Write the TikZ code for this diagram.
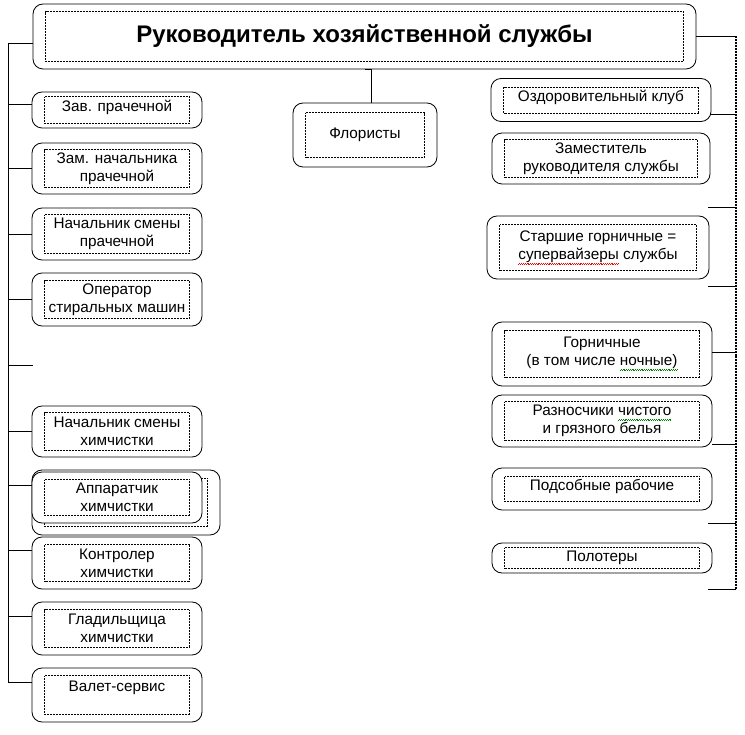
\documentclass[tikz,border=0pt]{standalone}
\usepackage{fontspec}
\setmainfont{Liberation Sans}
\usetikzlibrary{calc}

% wavy spell-check marks
\newcommand{\wavemark}[2]{\leavevmode\setbox0\hbox{#2}%
  \rlap{\color{#1}\hbox to \wd0{%
  \xleaders\hbox{\rule[-4.6pt]{0.9pt}{0.6pt}\rule[-3.8pt]{0.9pt}{0.6pt}}\hfill}}\box0\relax}

\tikzset{
  post/.style={draw, fill=white, line width=0.8pt, rounded corners=10pt,
    inner sep=0pt, align=center, font=\fontsize{15.3}{18}\selectfont},
  inbox/.style={line width=0.5pt, dash pattern=on 0.5pt off 1pt},
  link/.style={line width=0.8pt},
  rail/.style={line width=1.5pt, dash pattern=on 1pt off 0.5pt},
  lift/.style={text height=10.7pt, text depth=#1},
}

\begin{document}
\begin{tikzpicture}[x=1pt, y=-1pt]
  \useasboundingbox (0,0) rectangle (745,735);

  % Head
  \node[post, minimum width=663pt, minimum height=65pt,
    font=\fontsize{24}{28}\selectfont\bfseries] (head) at (364.5,36.5)
    {Руководитель хозяйственной службы};
  \node[post, minimum width=144pt, minimum height=64pt] (flor) at (365,135) {Флористы};

  % Laundry and dry cleaning
  \node[post, minimum width=170pt, minimum height=36pt, lift=8pt] (zav) at (117,110) {Зав. прачечной};
  \node[post, minimum width=170pt, minimum height=51pt] (zam) at (117,168.5) {Зам. начальника\\прачечной};
  \node[post, minimum width=170pt, minimum height=52pt] (nsp) at (117,234) {Начальник смены\\прачечной};
  \node[post, minimum width=170pt, minimum height=53pt] (oper) at (117,299.5) {Оператор\\стиральных машин};
  \node[post, minimum width=170pt, minimum height=51pt] (nsh) at (117,431.5) {Начальник смены\\химчистки};
  \node[post, minimum width=188pt, minimum height=65pt] (appx) at (126,502.5) {};
  \draw[inbox] ($(appx.south west)+(13,-9)$) rectangle ($(appx.north east)+(-13,9)$);
  \node[post, minimum width=170pt, minimum height=51pt] (app) at (117,497.5) {Аппаратчик\\химчистки};
  \node[post, minimum width=170pt, minimum height=52pt] (kont) at (117,563) {Контролер\\химчистки};
  \node[post, minimum width=170pt, minimum height=53pt] (glad) at (117,628.5) {Гладильщица\\химчистки};
  \node[post, minimum width=170pt, minimum height=54pt, lift=18.7pt] (valet) at (117,695) {Валет-сервис};

  % Rooms
  \node[post, minimum width=220pt, minimum height=43pt, lift=6.7pt] (club) at (601,100) {Оздоровительный клуб};
  \node[post, minimum width=218pt, minimum height=51pt] (deputy) at (601,158.5) {Заместитель\\руководителя службы};
  \node[post, minimum width=222pt, minimum height=63pt] (senior) at (598,247.5) {Старшие горничные =\\\wavemark{red}{супервайзеры} службы};
  \node[post, minimum width=220pt, minimum height=64pt] (maids) at (602,354) {Горничные\\(в том числе \wavemark{green!50!black}{ночные)}};
  \node[post, minimum width=220pt, minimum height=52pt] (porter) at (602,421) {Разносчики \wavemark{green!50!black}{чистого}\\и грязного белья};
  \node[post, minimum width=220pt, minimum height=42pt, lift=8.7pt] (helper) at (602,489) {Подсобные рабочие};
  \node[post, minimum width=220pt, minimum height=30pt] (polish) at (602,558) {Полотеры};

  % Dotted frames inside the boxes
  \foreach \n/\d in {head/8, flor/10, zav/5, zam/7, nsp/7, oper/8, nsh/7, app/8,
      kont/8, glad/8, valet/8, club/9, deputy/7, senior/9, maids/9, porter/7,
      helper/9, polish/5}
    \draw[inbox] ($(\n.south west)+(13,-\d)$) rectangle ($(\n.north east)+(-13,\d)$);

  % Rails
  \coordinate (lrail) at (8,43);
  \coordinate (lend) at (8,682);
  \coordinate (rrail) at (736,36);
  \coordinate (rend) at (736,589);
  \draw[link] (lrail) -- (lend);
  \draw[rail] (rrail) -- (rend);

  % Links
  \draw[link] ([xshift=6pt]flor.north) |- (head.south);
  \draw[link] (head.west |- lrail) -- (lrail);
  \draw[link] (zav.west |- 0,104) -- (lrail |- 0,104);
  \draw[link] (zam.west |- 0,168) -- (lrail |- 0,168);
  \draw[link] (nsp.west |- 0,234) -- (lrail |- 0,234);
  \draw[link] (oper.west |- 0,299) -- (lrail |- 0,299);
  \draw[link] (lrail |- 0,365) -- +(25,0);
  \draw[link] (nsh.west |- 0,431) -- (lrail |- 0,431);
  \draw[link] (app.west |- 0,485) -- (lrail |- 0,485);
  \draw[link] (kont.west |- 0,550) -- (lrail |- 0,550);
  \draw[link] (glad.west |- 0,616) -- (lrail |- 0,616);
  \draw[link] (valet.west |- lend) -- (lend);

  \draw[link] (head.east |- rrail) -- (rrail);
  \draw[link] (club.east |- 0,114) -- (rrail |- 0,114);
  \draw[link] (rrail |- 0,207) -- +(-28,0);
  \draw[link] (rrail |- 0,286) -- +(-28,0);
  \draw[link] (maids.east |- 0,352) -- (rrail |- 0,352);
  \draw[link] (porter.east |- 0,444) -- (rrail |- 0,444);
  \draw[link] (rrail |- 0,523) -- +(-28,0);
  \draw[link] (rend) -- +(-28,0);
\end{tikzpicture}
\end{document}
